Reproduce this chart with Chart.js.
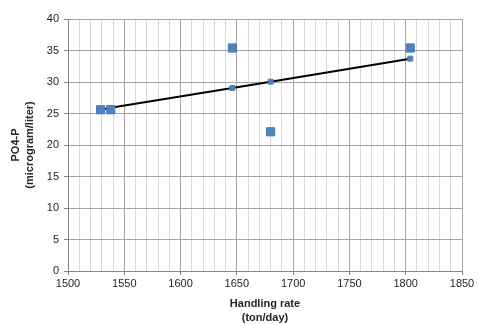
<!DOCTYPE html>
<html>
<head>
<meta charset="utf-8">
<script src="https://cdn.jsdelivr.net/npm/chart.js@4"></script>
<style>
  html, body { margin: 0; padding: 0; background: #fff; }
  #wrap { width: 478px; height: 325px; }
</style>
</head>
<body>
<div id="wrap"><canvas id="c" width="478" height="325"></canvas></div>
<script>
// measured data
var rateObs  = [1529, 1538, 1646, 1680, 1804];
var po4Obs   = [25.6, 25.6, 35.4, 22.1, 35.4];
// fitted values (trend)
var rateFit  = [1529, 1538, 1646, 1680, 1804];
var po4Fit   = [25.6, 25.9, 29.05, 30.05, 33.7];

var xTicks = [1500, 1550, 1600, 1650, 1700, 1750, 1800, 1850];
var yTicks = [0, 5, 10, 15, 20, 25, 30, 35, 40];

function pts(xs, ys) {
  return xs.map(function(x, i) { return { x: x, y: ys[i] }; });
}

var FONT = 'Liberation Sans, Arial, sans-serif';

new Chart(document.getElementById('c'), {
  type: 'scatter',
  data: {
    datasets: [{
      data: pts(rateObs, po4Obs),
      pointStyle: 'rect',
      pointRadius: 5.8,
      backgroundColor: '#4f81bd',
      borderColor: '#4a7ebb',
      borderWidth: 1,
      showLine: false
    }, {
      data: pts(rateFit, po4Fit),
      pointStyle: 'rect',
      pointRadius: 3.5,
      backgroundColor: '#4f81bd',
      showLine: true,
      borderColor: '#000',
      borderWidth: 2,
      pointBorderColor: '#4f81bd',
      pointBorderWidth: 1
    }]
  },
  options: {
    responsive: false,
    animation: false,
    layout: { padding: { top: 19, right: 16, left: 9, bottom: 0 } },
    plugins: { legend: { display: false }, tooltip: { enabled: false } },
    scales: {
      x: {
        type: 'linear',
        min: 1500, max: 1850,
        afterFit: function(s) { s.height = 54; },
        afterBuildTicks: function(s) {
          var t = [];
          for (var v = 1500; v <= 1850; v += 10) t.push({ value: v });
          s.ticks = t;
        },
        ticks: {
          autoSkip: false,
          maxRotation: 0,
          color: '#262626',
          font: { family: FONT, size: 11 },
          padding: 2,
          callback: function(v) { return xTicks.indexOf(v) >= 0 ? String(v) : ''; }
        },
        grid: {
          color: function(ctx) {
            return xTicks.indexOf(ctx.tick.value) >= 0 ? '#a6a6a6' : '#d9d9d9';
          },
          tickColor: function(ctx) {
            return xTicks.indexOf(ctx.tick.value) >= 0 ? '#868686' : 'rgba(0,0,0,0)';
          },
          tickLength: 4,
          lineWidth: 1
        },
        border: { color: '#868686' },
        title: {
          display: true,
          text: ['Handling rate', '(ton/day)'],
          color: '#262626',
          font: { family: FONT, size: 11, weight: 'bold', lineHeight: 1.25 },
          padding: { top: 6, bottom: 0 }
        }
      },
      y: {
        min: 0, max: 40,
        afterFit: function(s) { s.width = 59; },
        afterBuildTicks: function(s) {
          s.ticks = yTicks.map(function(v) { return { value: v }; });
        },
        ticks: {
          color: '#262626',
          font: { family: FONT, size: 11 },
          padding: 5
        },
        grid: { color: '#a6a6a6', tickColor: '#868686', tickLength: 4 },
        border: { color: '#868686' },
        title: {
          display: true,
          text: ['PO4-P', '(microgram/liter)'],
          color: '#262626',
          font: { family: FONT, size: 11, weight: 'bold', lineHeight: 1.25 },
          padding: { top: 0, bottom: 2 }
        }
      }
    }
  }
});
</script>
</body>
</html>
